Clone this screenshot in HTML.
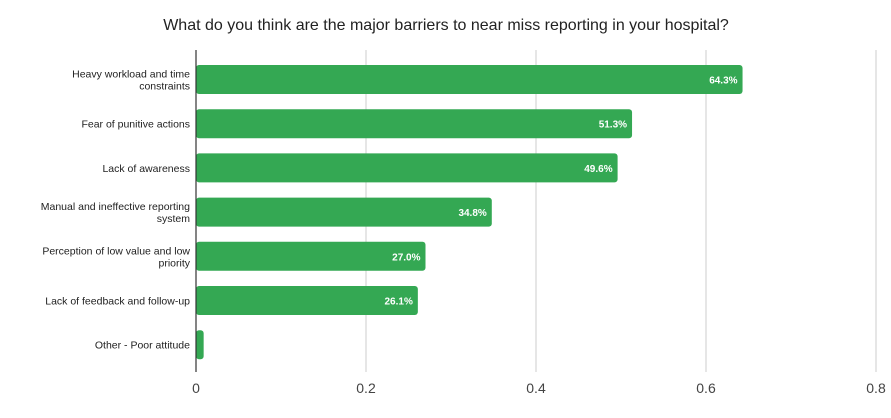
<!DOCTYPE html>
<html><head><meta charset="utf-8"><style>
body{margin:0;background:#fff;width:891px;height:413px;overflow:hidden}
svg{font-family:"Liberation Sans",Arial,sans-serif}
</style></head><body>
<svg id="c" width="891" height="413">
<text x="446" y="30" text-anchor="middle" font-size="16" fill="#222">What do you think are the major barriers to near miss reporting in your hospital?</text>
</svg>
<script>
const categories=[["Heavy workload and time","constraints"],["Fear of punitive actions"],["Lack of awareness"],["Manual and ineffective reporting","system"],["Perception of low value and low","priority"],["Lack of feedback and follow-up"],["Other - Poor attitude"]];
const values=[0.643,0.513,0.496,0.348,0.270,0.261,0.009];
const valueLabels=["64.3%","51.3%","49.6%","34.8%","27.0%","26.1%",""];
const ticks=[0,0.2,0.4,0.6,0.8];
const tickLabels=["0","0.2","0.4","0.6","0.8"];
const svg=document.getElementById('c');const NS='http://www.w3.org/2000/svg';
const x0=196,xs=850,top0=65,step=44.2,bh=29;
const X=v=>x0+v*xs;const Y=i=>top0+i*step;
function mk(t,a){const e=document.createElementNS(NS,t);for(const k in a)e.setAttribute(k,a[k]);svg.appendChild(e);return e;}
ticks.forEach((t,i)=>{
if(t>0){const g=mk('line',{x1:X(t),x2:X(t),y1:50,y2:372,stroke:'#ccc','stroke-width':1});

}
const l=mk('text',{x:X(t),y:393,'text-anchor':'middle','font-size':14,fill:'#444'});l.textContent=tickLabels[i];


});
values.forEach((v,i)=>{
const r=mk('rect',{x:x0,y:Y(i),width:Math.max(X(v)-x0,1),height:bh,rx:3,fill:'#34a853'});


if(valueLabels[i]){const t=mk('text',{x:X(v)-5,y:Y(i)+bh/2+4,'text-anchor':'end','font-size':10,'font-weight':'bold',fill:'#fff'});t.textContent=valueLabels[i];

}
const lines=categories[i];const cy=Y(i)+bh/2;
lines.forEach((s,j)=>{const t=mk('text',{x:190,y:cy+4+(j-(lines.length-1)/2)*12,'text-anchor':'end','font-size':10.5,fill:'#222'});t.textContent=s;

});
});
const ax=mk('line',{x1:x0,x2:x0,y1:50,y2:372,stroke:'#333','stroke-width':1.2});


</script>
</body></html>
